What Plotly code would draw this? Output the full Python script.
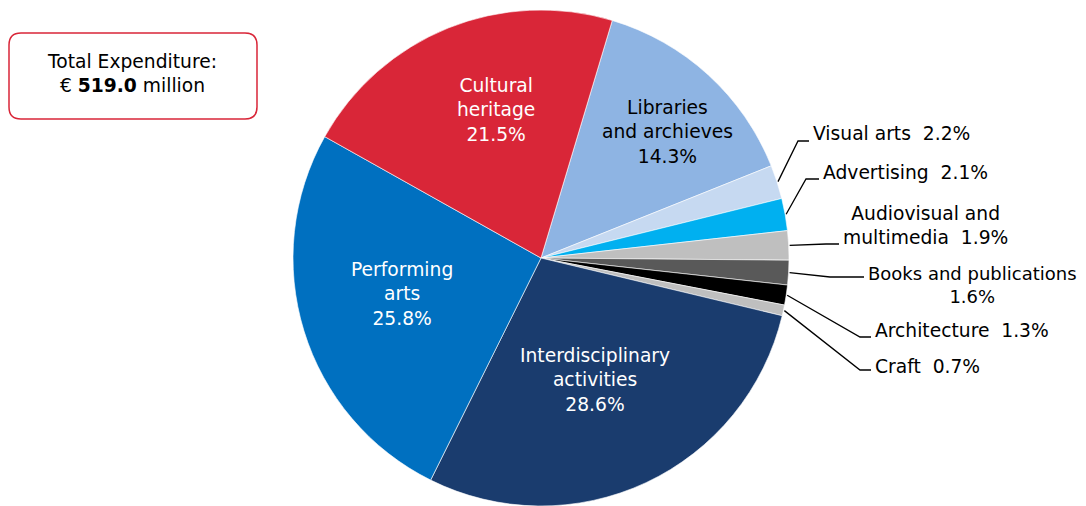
import math
import plotly.graph_objects as go

# the page body has an 8px margin, so the figure is drawn 8px in from the window corner
OFF = 8
W, H = 1086 - OFF, 506 - OFF

# data, clockwise from the top-right slice
sectors = ["Libraries and archieves", "Visual arts", "Advertising",
           "Audiovisual and multimedia", "Books and publications",
           "Architecture", "Craft", "Interdisciplinary activities",
           "Performing arts", "Cultural heritage"]
shares = [14.3, 2.2, 2.1, 1.9, 1.6, 1.3, 0.7, 28.6, 25.8, 21.5]
colors = ["#8EB4E3", "#C6D9F1", "#00B0F0", "#BFBFBF", "#595959",
          "#000000", "#BFBFBF", "#1A3C6E", "#0070C0", "#D92638"]
total_expenditure = 519.0
start_angle = 16.7

# pie geometry in window pixels
cx, cy, r = 541, 258, 248


def px(x, y):
    """window pixel -> paper coords"""
    return (x - OFF) / W, 1 - (y - OFF) / H


fig = go.Figure()

fig.add_trace(go.Pie(
    labels=sectors,
    values=shares,
    sort=False,
    direction="clockwise",
    rotation=start_angle,
    marker=dict(colors=colors, line=dict(color="white", width=0.6)),
    textinfo="none",
    hoverinfo="label+percent",
    showlegend=False,
    domain=dict(x=[(cx - r - OFF) / W, (cx + r - OFF) / W],
                y=[1 - (cy + r - OFF) / H, 1 - (cy - r - OFF) / H]),
))

# mid angle of every slice (degrees clockwise from 12 o'clock)
mids = []
acc = start_angle
for v in shares:
    mids.append(acc + v * 3.6 / 2)
    acc += v * 3.6

font = dict(family="DejaVu Sans", size=18.7)
annotations = []
shapes = []

# labels inside the big slices
inside = {
    "Cultural heritage": ("Cultural<br>heritage<br>21.5%", 496, 110, "white"),
    "Libraries and archieves": ("Libraries<br>and archieves<br>14.3%", 667, 132, "black"),
    "Performing arts": ("Performing<br>arts<br>25.8%", 402, 294, "white"),
    "Interdisciplinary activities": ("Interdisciplinary<br>activities<br>28.6%", 595, 380, "white"),
}
for name, (txt, x, y, col) in inside.items():
    ax, ay = px(x, y)
    annotations.append(dict(x=ax, y=ay, xref="paper", yref="paper", text=txt,
                            showarrow=False, align="center",
                            xanchor="center", yanchor="middle",
                            font=dict(font, color=col)))

# outside labels: text, text left x, text mid y, elbow point, line end, font size
nb = "\u00a0\u00a0"
outside = {
    "Visual arts": ("Visual arts" + nb + "2.2%", 811, 133, (798, 141), (809, 141), 18.7),
    "Advertising": ("Advertising" + nb + "2.1%", 821, 172, (806, 179), (819, 179), 18.7),
    "Audiovisual and multimedia": ("Audiovisual and<br>multimedia" + nb + "1.9%", 841, 225, (826, 244), (839, 244), 18.7),
    "Books and publications": ("Books and publications<br>1.6%", 866, 285, (830, 277), (864, 277), 18),
    "Architecture": ("Architecture" + nb + "1.3%", 873, 330, (860, 337), (871, 337), 18.7),
    "Craft": ("Craft" + nb + "0.7%", 873, 366, (860, 370), (871, 370), 18.7),
}
for name, (txt, x, y, elbow, end, fs) in outside.items():
    a = math.radians(mids[sectors.index(name)])
    sx = cx + (r + 1) * math.sin(a)
    sy = cy - (r + 1) * math.cos(a)
    pts = [px(sx, sy), px(*elbow), px(*end)]
    path = "M {} {} L {} {} L {} {}".format(pts[0][0], pts[0][1], pts[1][0], pts[1][1],
                                          pts[2][0], pts[2][1])
    shapes.append(dict(type="path", xref="paper", yref="paper", path=path,
                       line=dict(color="black", width=1.3)))
    ax, ay = px(x, y)
    annotations.append(dict(x=ax, y=ay, xref="paper", yref="paper", text=txt,
                            showarrow=False, align="center", xanchor="left",
                            yanchor="middle", font=dict(font, color="black", size=fs)))

# rounded box with the total
x0, y0, x1, y1, rr = 9, 33, 257, 119, 12


def P(x, y):
    return "{:.5f} {:.5f}".format(*px(x, y))


box = ("M " + P(x0 + rr, y0) + " L " + P(x1 - rr, y0) + " Q " + P(x1, y0) + " " + P(x1, y0 + rr)
       + " L " + P(x1, y1 - rr) + " Q " + P(x1, y1) + " " + P(x1 - rr, y1)
       + " L " + P(x0 + rr, y1) + " Q " + P(x0, y1) + " " + P(x0, y1 - rr)
       + " L " + P(x0, y0 + rr) + " Q " + P(x0, y0) + " " + P(x0 + rr, y0) + " Z")
shapes.append(dict(type="path", xref="paper", yref="paper", path=box,
                   line=dict(color="#D92638", width=1.5), fillcolor="white"))
bx, by = px(132, 74)
annotations.append(dict(x=bx, y=by, xref="paper", yref="paper",
                        text="Total Expenditure:<br>€ <b>{:.1f}</b> million".format(total_expenditure),
                        showarrow=False, align="center", xanchor="center", yanchor="middle",
                        font=dict(font, color="black")))

fig.update_layout(
    width=W, height=H,
    margin=dict(l=0, r=0, t=0, b=0),
    paper_bgcolor="white",
    plot_bgcolor="white",
    font=font,
    annotations=annotations,
    shapes=shapes,
)

fig.write_html("out.html")
